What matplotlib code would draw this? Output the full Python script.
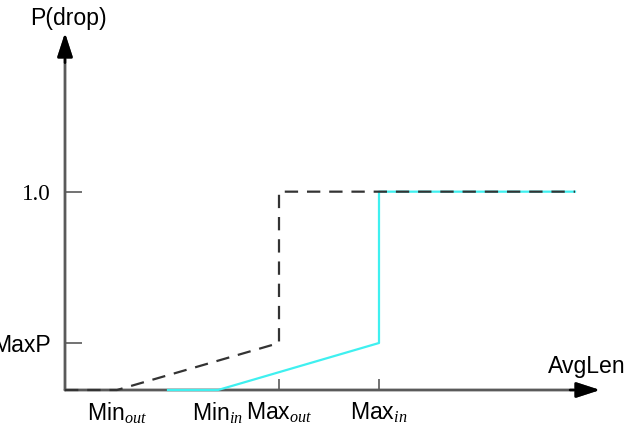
import numpy as np
import matplotlib
matplotlib.use("Agg")
import matplotlib.pyplot as plt

plt.rcParams['font.family'] = 'Liberation Sans'
plt.rcParams['mathtext.fontset'] = 'custom'
plt.rcParams['mathtext.it'] = 'Liberation Serif:italic'
plt.rcParams['mathtext.rm'] = 'Liberation Serif'

# thresholds on the AvgLen axis (arbitrary units)
min_out, min_in, max_out, max_in = 5.2, 15.3, 21.4, 31.4
x_end = 51.0
cyan_start = 10.3
maxp = 0.237

# "out" profile (dashed) and "in" profile (cyan)
out_x = [0, min_out, max_out, max_out, x_end]
out_y = [0, 0, maxp, 1.0, 1.0]
in_x = [cyan_start, min_in, max_in, max_in, x_end]
in_y = [0, 0, maxp, 1.0, 1.0]

xtick_pos = [min_out, min_in, max_out, max_in]
xtick_lab = ["Min$_{out}$", "Min$_{in}$", "Max$_{out}$", "Max$_{in}$"]
ytick_pos = [maxp, 1.0]
ytick_lab = ["MaxP", "1.0"]

W, H = 628, 432
fig = plt.figure(figsize=(W / 100, H / 100), dpi=100)
ax = fig.add_axes([65 / W, (H - 390) / H, (600 - 65) / W, (390 - 33) / H])
xmax = 53.5
ymax = 1.80
ax.set_xlim(0, xmax)
ax.set_ylim(0, ymax)

axcol = '#5a5a5a'
fs = 16.6
for s in ax.spines.values():
    s.set_visible(False)

ax.plot(in_x, in_y, color='#3ff0f0', lw=1.6, clip_on=False, zorder=3)
ax.plot(out_x, out_y, color='#333333', lw=1.6, dashes=(6, 4), clip_on=False, zorder=4)

arrow = dict(arrowstyle='-|>,head_length=0.4,head_width=0.13', mutation_scale=36,
             color='black', lw=1.8, shrinkA=0, shrinkB=0)
ax.annotate("", xy=(xmax, 0), xytext=(0, 0), arrowprops=dict(arrow, color=axcol, lw=2), zorder=2)
ax.annotate("", xy=(0, ymax), xytext=(0, 0), arrowprops=dict(arrow, color=axcol, lw=2), zorder=2)
# arrow heads in black
ax.annotate("", xy=(xmax, 0), xytext=(xmax - 3, 0), arrowprops=arrow, zorder=2)
ax.annotate("", xy=(0, ymax), xytext=(0, ymax - 0.15), arrowprops=arrow, zorder=2)

ax.set_xticks(xtick_pos, xtick_lab, fontsize=fs)
ax.set_yticks(ytick_pos, ytick_lab, fontsize=fs)
ax.tick_params(axis='x', direction='in', length=8, width=1.2, color=axcol, pad=8)
ax.tick_params(axis='y', direction='in', length=12, width=1.2, color=axcol, pad=10)
for i in (0, 1):
    ax.xaxis.get_major_ticks()[i].tick1line.set_visible(False)
ax.get_yticklabels()[1].set_fontfamily('Liberation Serif')

ax.text(0.3, 1.838, "P(drop)", fontsize=fs, ha='center', va='baseline',
        clip_on=False)
ax.text(48.3, 0.086, "AvgLen", fontsize=fs, ha='left', va='baseline',
        clip_on=False)

fig.savefig("out.png", dpi=100)
